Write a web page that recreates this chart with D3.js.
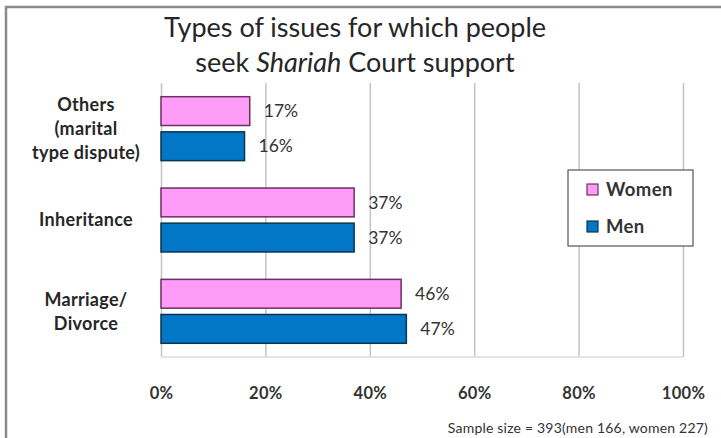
<!DOCTYPE html>
<html>
<head>
<meta charset="utf-8">
<script src="https://cdn.jsdelivr.net/npm/d3@7"></script>
<style>
  html, body { margin: 0; padding: 0; background: #fff; }
  svg { display: block; font-family: Lato, "Open Sans", sans-serif; }
</style>
</head>
<body>
<svg id="chart" width="721" height="438"></svg>
<script>
// Issue categories, top to bottom, with their wrapped label lines
const categories = ["Others", "Inheritance", "Marriage/Divorce"];
const categoryLines = [["Others", "(marital", "type dispute)"], ["Inheritance"], ["Marriage/", "Divorce"]];
const seriesNames = ["Women", "Men"];
const womenValues = [17, 37, 46];
const menValues = [16, 37, 47];
const tickValues = [0, 20, 40, 60, 80, 100];
const titleLines = [["Types of issues for which people"], ["seek ", "Shariah", " Court support"]];
const footnote = "Sample size = 393(men 166, women 227)";

const colors = { Women: "#FC9CF6", Men: "#0277C6" };
const strokes = { Women: "#6E2F62", Men: "#0B3553" };

const svg = d3.select("#chart");
const plot = { left: 161, right: 683, top: 83, bottom: 357 };

const x = d3.scaleLinear().domain([0, 100]).range([plot.left, plot.right]);
const y = d3.scaleBand().domain(categories).range([plot.top, plot.bottom])
  .paddingInner(0.30).paddingOuter(0.15);
const ySub = d3.scaleBand().domain(seriesNames).range([0, y.bandwidth()]).paddingInner(0.18);

// Frame
svg.append("path")
  .attr("d", "M6,438 L6,7 L721,7")
  .attr("fill", "none").attr("stroke", "#8a8a8a").attr("stroke-width", 2.5);

// Title
const title = svg.append("text").attr("text-anchor", "middle")
  .attr("font-size", 27).attr("fill", "#262626");
titleLines.forEach((parts, i) => {
  const line = title.append("tspan").attr("x", 355).attr("y", 37 + i * 35);
  parts.forEach(p => {
    line.append("tspan").text(p).attr("font-style", p === "Shariah" ? "italic" : null);
  });
});

// Vertical gridlines
const grid = svg.append("g").attr("transform", `translate(0,${plot.bottom})`)
  .call(d3.axisBottom(x).tickValues(tickValues).tickSize(-(plot.bottom - plot.top)).tickFormat(""));
grid.select(".domain").remove();
grid.selectAll(".tick line").attr("stroke", "#c4c4c4").attr("stroke-width", 1.5);
svg.append("line")
  .attr("x1", x(0)).attr("x2", x(100)).attr("y1", plot.bottom).attr("y2", plot.bottom)
  .attr("stroke", "#dcdcdc").attr("stroke-width", 1.5);

// X axis tick labels
const xAxis = svg.append("g").attr("transform", `translate(0,${plot.bottom})`)
  .call(d3.axisBottom(x).tickValues(tickValues).tickSize(0).tickPadding(30).tickFormat(d => d + "%"));
xAxis.select(".domain").remove();
xAxis.selectAll("text")
  .attr("font-family", "Lato, sans-serif").attr("font-size", 16.5).attr("font-weight", "bold")
  .attr("letter-spacing", 0.3).attr("fill", "#333");

// Category labels
categories.forEach((c, i) => {
  const lines = categoryLines[i];
  const cy = y(c) + y.bandwidth() / 2;
  const lh = 24;
  const t = svg.append("text").attr("text-anchor", "middle")
    .attr("font-size", 18).attr("font-weight", "bold").attr("letter-spacing", 0.3)
    .attr("fill", "#262626");
  lines.forEach((l, j) => {
    t.append("tspan").attr("x", 86)
      .attr("y", cy + (j - (lines.length - 1) / 2) * lh)
      .attr("dy", "0.35em").text(l);
  });
});

// Bars
const rows = categories.map((c, i) => ({ category: c, values: { Women: womenValues[i], Men: menValues[i] } }));
const groups = svg.append("g").selectAll("g").data(rows).join("g")
  .attr("transform", d => `translate(0,${y(d.category)})`);

groups.selectAll("rect")
  .data(d => seriesNames.map(s => ({ series: s, value: d.values[s] })))
  .join("rect")
  .attr("x", x(0))
  .attr("y", d => ySub(d.series))
  .attr("width", d => x(d.value) - x(0))
  .attr("height", ySub.bandwidth())
  .attr("fill", d => colors[d.series])
  .attr("stroke", d => strokes[d.series])
  .attr("stroke-width", 1.5);

groups.selectAll("text.value")
  .data(d => seriesNames.map(s => ({ series: s, value: d.values[s] })))
  .join("text").attr("class", "value")
  .attr("x", d => x(d.value) + 14)
  .attr("y", d => ySub(d.series) + ySub.bandwidth() / 2)
  .attr("dy", "0.35em")
  .attr("font-size", 17.5).attr("fill", "#333")
  .text(d => d.value + "%");

// Legend
const legend = svg.append("g").attr("transform", "translate(568,170)");
legend.append("rect").attr("width", 125).attr("height", 76)
  .attr("fill", "#fff").attr("stroke", "#555").attr("stroke-width", 1.2);
seriesNames.forEach((s, i) => {
  const g = legend.append("g").attr("transform", `translate(19,${20 + i * 37})`);
  g.append("rect").attr("x", 0).attr("y", -6).attr("width", 11).attr("height", 11)
    .attr("fill", colors[s]).attr("stroke", strokes[s]).attr("stroke-width", 1.2);
  g.append("text").attr("x", 19).attr("y", 0).attr("dy", "0.35em")
    .attr("font-size", 18.5).attr("font-weight", "bold").attr("letter-spacing", 0.4)
    .attr("fill", "#333").text(s);
});

// Footnote
svg.append("text").attr("x", 708).attr("y", 428).attr("dy", "0.35em")
  .attr("text-anchor", "end").attr("font-size", 14).attr("letter-spacing", 0.2)
  .attr("fill", "#333").text(footnote);
</script>
</body>
</html>
